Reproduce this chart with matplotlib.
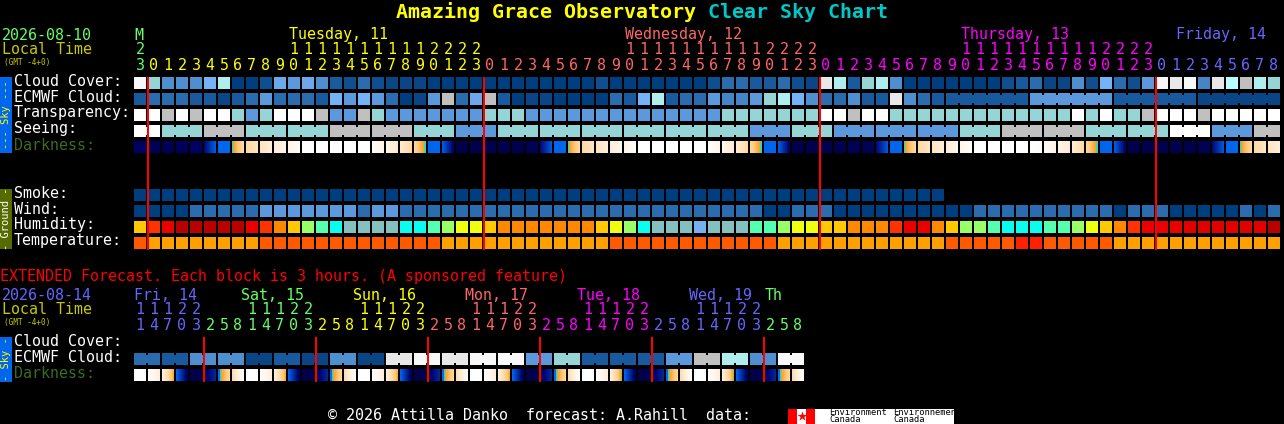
import numpy as np
import matplotlib
matplotlib.use("Agg")
import matplotlib.pyplot as plt
from matplotlib.colors import LinearSegmentedColormap

# colour scale shared by the sky and ground rows (0 = overcast ... 15 = clear)
sky_colors = ["#003F7F", "#0A4585", "#0F4F8F", "#185A9D", "#2B6CAE", "#4585C6",
              "#4F8FD0", "#5C99DC", "#6CA8EA", "#74B3F8", "#96D5D5", "#AEEEEE",
              "#C0C0C0", "#E8E8E8", "#F8F8F8", "#FFFFFF", "#B8FFFF"]

cloud_cover = [14, 10, 6, 6, 6, 9, 11, 0, 0, 2, 8, 7, 8, 6, 3, 2, 4, 2, 1, 1, 1,
               0, 0, 0, 0, 0, 0, 0, 0, 0, 0, 0, 0, 2, 0, 0, 0, 0, 0, 0, 0,
               2, 4, 4, 3, 3, 4, 2, 1, 13, 11, 3,
               10, 11, 6, 0, 0, 0, 0, 0, 0, 0, 2, 3, 4, 1, 1, 6, 2, 9, 4, 2, 7,
               14, 13, 14, 5, 13, 16, 12, 11, 10]
ecmwf_cloud = [3, 4, 4, 4, 3, 3, 1, 3, 4, 7, 4, 4, 4, 3, 9, 7, 9, 7, 4, 0, 1,
               7, 12, 4, 8, 12, 3, 0, 1, 1, 0, 0, 0, 0, 4, 3, 9, 11, 3, 4, 4,
               7, 5, 5, 7, 10, 11, 9, 6, 4, 4, 6,
               3, 3, 13, 6, 4, 3,
               3, 3, 3, 3, 3, 3, 7, 7, 7, 7, 7, 7, 3, 3, 3, 3, 3, 3, 1, 1, 1, 1, 1, 1]
transparency = [15, 15, 12, 15, 12, 15, 15, 10, 7, 10, 15, 15, 15, 12, 7, 7, 12, 10, 7, 7, 7,
                7, 7, 7, 7, 10, 10, 10,
                7, 7, 7, 7, 7, 7, 7, 7, 7, 7, 7, 7, 7, 7,
                10, 10, 10, 10, 10, 10, 10, 15, 15, 12, 15, 15,
                10, 10, 10, 10, 10, 10, 10, 10, 10, 10, 10, 10, 10,
                15, 10, 15, 10, 10, 12, 15, 15, 15, 12, 15, 15, 15, 15, 15]
seeing_blocks = [15, 10, 12, 10, 10, 12, 12, 10, 7, 10, 10, 10, 10, 10, 10, 7, 10, 7, 7, 7,
                 10, 12, 12, 10, 10, 15, 7, 12]
seeing_sizes = [2] + [3] * 26 + [2]
ecmwf_sizes = [1] * 58 + [6] * 4
smoke = [0] * 58
wind = [0, 0, 0, 0, 4, 4, 4, 4, 4, 7, 7, 7, 7, 7, 7, 7, 4, 7, 7, 4, 4,
        4, 4, 4, 4, 4, 4, 4, 4, 4, 4, 4, 4, 4, 4, 4, 4, 4, 4, 4, 4, 4, 4, 4, 4,
        0, 0, 4, 4, 4, 0, 0,
        0, 0, 0, 0, 0, 0, 0, 0, 4, 4, 4, 4, 4, 4, 4, 4, 4, 4, 0, 4, 4, 4,
        0, 0, 0, 0, 0, 4, 0, 4]

humidity_colors = {"dred": "#B80000", "red": "#EB0000", "red2": "#E00000", "ored": "#FF3300",
                   "or": "#FF8800", "amb": "#FFC800", "yel": "#EEFF10", "lim": "#99FF66",
                   "mint": "#55FFB0", "cya": "#08FFF0", "tea": "#85C0C0", "blu": "#76B0F0"}
humidity = ["amb", "ored", "red", "dred", "dred", "dred", "dred", "dred", "red", "ored", "or", "amb",
            "lim", "mint", "cya", "tea", "tea", "tea", "tea", "cya", "cya",
            "mint", "lim", "yel", "yel", "amb", "or", "or", "or", "or", "or", "or", "or",
            "amb", "yel", "lim", "cya", "tea", "tea", "tea", "blu", "tea", "tea", "tea",
            "mint", "mint", "lim", "yel", "yel", "amb", "amb", "or",
            "or", "or", "ored", "red", "red", "or", "amb", "lim", "lim", "mint",
            "cya", "cya", "cya", "mint", "mint", "lim", "yel", "amb", "or", "ored",
            "red", "red", "red", "red2", "red2", "red2", "red2", "red2", "red2", "dred"]

temp_colors = {"warm": "#FF5A00", "mild": "#FFA000", "hot": "#FF2000"}
temperature = ["warm"] + ["mild"] * 8 + ["warm"] * 13 + ["mild"] * 12 + ["warm"] * 12 + ["mild"] * 12 \
    + ["warm"] * 5 + ["hot"] * 2 + ["warm"] * 5 + ["mild"] * 12

# darkness, 0 = deep night, 100 = full daylight: value at left and right side of a cell
dark_left = [4, 2, 2, 3, 4, 8, 33, 37, 60, 68, 78, 86, 100, 100, 100, 100, 100, 95, 86, 74, 58, 33, 30,
             1, 1, 1, 1, 1, 2, 8, 33, 37, 60, 70, 78, 88, 100, 100, 100, 100, 100, 96, 88, 76, 58, 33, 30,
             1, 1, 1, 1, 2, 2, 8, 33, 37, 60, 70, 78, 88, 100, 100, 100, 100, 100, 96, 86, 76, 58, 33, 30,
             1, 1, 1, 1, 1, 2, 8, 33, 37, 60, 70]
dark_right = [4, 2, 2, 3, 4, 30, 33, 62, 68, 78, 86, 95, 100, 100, 100, 100, 100, 86, 74, 60, 36, 33, 5,
              1, 1, 1, 1, 1, 2, 28, 33, 60, 70, 78, 88, 96, 100, 100, 100, 100, 100, 88, 76, 60, 36, 33, 5,
              1, 1, 1, 1, 2, 2, 28, 33, 60, 70, 78, 88, 96, 100, 100, 100, 100, 96, 86, 76, 60, 36, 33, 5,
              1, 1, 1, 1, 1, 2, 28, 33, 60, 70, 78]

ext_cloud_blocks = [4, 3, 6, 6, 1, 3, 1, 6, 1, 13, 14, 13, 14, 14, 7, 10, 3, 3, 3, 7, 12, 11, 6, 14]
ext_sizes = [2] * 24
ext_dark_left = [100, 98, 82, 32, 1, 2, 32, 62, 100, 98, 80, 32, 1, 2, 32, 62, 100, 98, 80, 32, 1, 2, 32, 62,
                 100, 98, 80, 32, 1, 2, 32, 62, 100, 98, 80, 32, 1, 2, 32, 62, 100, 98, 80, 32, 1, 2, 32, 62]
ext_dark_right = [100, 80, 42, 2, 1, 16, 58, 98, 100, 80, 42, 2, 1, 16, 58, 98, 100, 80, 42, 2, 1, 16, 58, 98,
                  100, 80, 42, 2, 1, 16, 58, 98, 100, 80, 38, 2, 1, 16, 58, 98, 100, 80, 38, 2, 1, 16, 58, 98]

green, yellow, salmon, magenta, blue = "#66FF66", "#FFFF00", "#FF6666", "#FF00FF", "#6666FF"
olive_text = "#C8C800"

hours = ["3"] + list("0123456789012345678901230123456789012345678901230123456789012345678901230") \
    + list("12345678")
hour_colors = [green] + [yellow] * 24 + [salmon] * 24 + [magenta] * 24 + [blue] * 9
tens = {2: [0], 1: [11, 12, 13, 14, 15, 16, 17, 18, 19, 20, 35, 36, 37, 38, 39, 40, 41, 42, 43, 44,
                    59, 60, 61, 62, 63, 64, 65, 66, 67, 68]}
tens_twos = [21, 22, 23, 24, 45, 46, 47, 48, 69, 70, 71, 72]
ext_hours = list("14703258") * 6
ext_hour_colors = [blue] * 5 + [green] * 8 + [yellow] * 8 + [salmon] * 8 + [magenta] * 8 + [blue] * 8 + [green] * 3
ext_tens = list("11122")

CELL = 14
LEFT = 134
mono = "DejaVu Sans Mono"
dark_cmap = LinearSegmentedColormap.from_list("dark", [
    (0.00, "#000048"), (0.06, "#000070"), (0.18, "#0030A8"), (0.32, "#0066EE"), (0.34, "#0066EE"),
    (0.36, "#00E0F0"), (0.40, "#FFA020"), (0.50, "#FFC878"), (0.62, "#FFDCA8"), (0.75, "#FFEBD0"),
    (0.90, "#FFF8F0"), (1.00, "#FFFFFF")])

fig = plt.figure(figsize=(12.84, 4.24), dpi=100, facecolor="black")
ax = fig.add_axes([0, 0, 1, 1])
ax.set_facecolor("black")
ax.axis("off")


def put(x, y, s, color="white", size=10.8, **kw):
    ax.text(x, y, s, color=color, fontsize=size, family=mono, va="center", **kw)


def draw_row(values, colors, y, sizes=None):
    n = len(values)
    ax.bar(LEFT + np.arange(n) * CELL, 12, width=12, bottom=y, align="edge",
           color=[colors[v] for v in values], linewidth=0)
    if sizes is None:
        return
    # blocks that belong together are joined by a narrow neck
    pos = 0
    for s in sizes:
        for k in range(pos, pos + s - 1):
            ax.bar(LEFT + k * CELL + 12, 8, width=2, bottom=y + 2, align="edge",
                   color=colors[values[k]], linewidth=0)
        pos += s


def draw_dark(left, right, y):
    for i in range(len(left)):
        x = LEFT + i * CELL
        ax.imshow(np.linspace(left[i], right[i], 12)[None, :], extent=(x, x + 12, y + 12, y), cmap=dark_cmap,
                  vmin=0, vmax=100, aspect="auto", interpolation="nearest")


# title
put(396, 12, "Amazing Grace Observatory", color="#FFFF00", size=14.4, weight="bold")
put(708, 12, "Clear Sky Chart", color="#00C8C8", size=14.4, weight="bold")

# main header
put(2, 35, "2026-08-10", color=green)
put(2, 50, "Local Time", color=olive_text)
put(4, 62, "(GMT -4+0)", color=olive_text, size=5.6)
for x, s, c in [(134, "M", green), (289, "Tuesday, 11", yellow), (625, "Wednesday, 12", salmon),
                (961, "Thursday, 13", magenta), (1176, "Friday, 14", blue)]:
    put(x, 35, s, color=c)
for i, h in enumerate(hours):
    put(LEFT + i * CELL + 6, 65, h, color=hour_colors[i], ha="center")
for digit, cols in tens.items():
    for i in cols:
        put(LEFT + i * CELL + 6, 50, str(digit), color=hour_colors[i], ha="center")
for i in tens_twos:
    put(LEFT + i * CELL + 6, 50, "2", color=hour_colors[i], ha="center")

# side tags
ax.bar(0, 76, width=12, bottom=77, align="edge", color="#0066EE", linewidth=0)
ax.bar(0, 60, width=12, bottom=189, align="edge", color="#556B00", linewidth=0)
ax.bar(0, 45, width=12, bottom=337, align="edge", color="#0066EE", linewidth=0)
put(6, 115, "--- Sky ---", color="#FFFF00", size=7.5, rotation=90, ha="center")
put(6, 219, "- Ground -", color="white", size=7.5, rotation=90, ha="center")
put(6, 359, "- Sky -", color="#FFFF00", size=7.5, rotation=90, ha="center")

# main rows
for y, s in [(81, "Cloud Cover:"), (97, "ECMWF Cloud:"), (113, "Transparency:"), (129, "Seeing:"),
             (193, "Smoke:"), (209, "Wind:"), (225, "Humidity:"), (241, "Temperature:")]:
    put(14, y, s)
put(14, 145, "Darkness:", color="#3A6B20")

draw_row(cloud_cover, sky_colors, 77)
draw_row(ecmwf_cloud, sky_colors, 93, ecmwf_sizes)
draw_row(transparency, sky_colors, 109)
draw_row(np.repeat(seeing_blocks, seeing_sizes), sky_colors, 125, seeing_sizes)
draw_dark(dark_left, dark_right, 141)
draw_row(smoke, sky_colors, 189)
draw_row(wind, sky_colors, 205)
draw_row(humidity, humidity_colors, 221)
draw_row(temperature, temp_colors, 237)

for x in [147, 483, 819, 1155]:
    ax.bar(x, 173, width=2, bottom=77, align="edge", color="#FF0000", linewidth=0, zorder=5)

# extended forecast
put(0, 276, "EXTENDED Forecast. Each block is 3 hours. (A sponsored feature)", color="#FF0000")
put(2, 295, "2026-08-14", color=blue)
put(2, 310, "Local Time", color=olive_text)
put(4, 322, "(GMT -4+0)", color=olive_text, size=5.6)
for x, s, c in [(134, "Fri, 14", blue), (241, "Sat, 15", green), (353, "Sun, 16", yellow), (465, "Mon, 17", salmon),
                (577, "Tue, 18", magenta), (689, "Wed, 19", blue), (765, "Th", green)]:
    put(x, 295, s, color=c)
for i, h in enumerate(ext_hours):
    put(LEFT + i * CELL + 6, 325, h, color=ext_hour_colors[i], ha="center")
for day in range(6):
    for k, s in enumerate(ext_tens):
        i = day * 8 + k
        put(LEFT + i * CELL + 6, 310, s, color=ext_hour_colors[i], ha="center")

put(14, 341, "Cloud Cover:")
put(14, 357, "ECMWF Cloud:")
put(14, 373, "Darkness:", color="#3A6B20")
draw_row(np.repeat(ext_cloud_blocks, ext_sizes), sky_colors, 353, ext_sizes)
draw_dark(ext_dark_left, ext_dark_right, 369)
for x in [203, 315, 427, 539, 651, 763]:
    ax.bar(x, 45, width=2, bottom=337, align="edge", color="#FF0000", linewidth=0, zorder=5)

# footer and logo
put(328, 415, "\u00a9 2026 Attilla Danko  forecast: A.Rahill  data:")
ax.bar(788, 15, width=166, bottom=409, align="edge", color="white", linewidth=0)
ax.bar(788, 15, width=9, bottom=409, align="edge", color="#FF0000", linewidth=0)
ax.bar(806, 15, width=9, bottom=409, align="edge", color="#FF0000", linewidth=0)
ax.scatter([801.5], [416], marker="*", s=55, color="#FF0000", linewidth=0, zorder=3)
for x, s in [(829, "Environment"), (893, "Environnement")]:
    put(x, 412.5, s, color="black", size=6.3)
    put(x, 420, "Canada", color="black", size=6.3)

ax.set_xlim(0, 1284)
ax.set_ylim(424, 0)
fig.savefig("out.png", dpi=100, facecolor="black")
